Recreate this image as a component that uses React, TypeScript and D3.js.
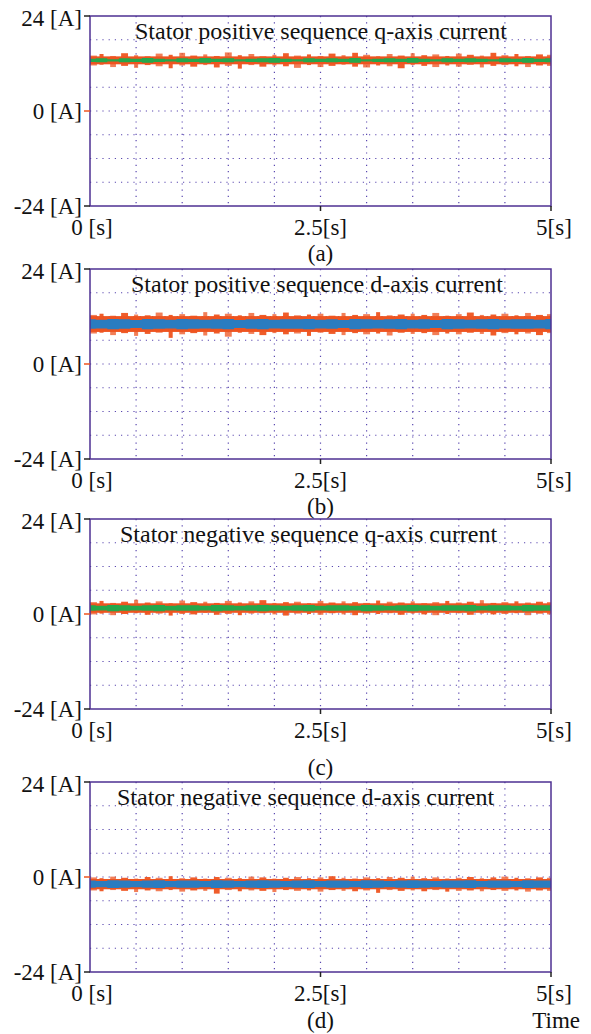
import React, { useEffect, useRef } from "react";
import * as d3 from "d3";

// Four scope traces: stator positive / negative sequence dq currents, 0..5 s, +-24 A

const titles = [
  "Stator positive sequence q-axis current",
  "Stator positive sequence d-axis current",
  "Stator negative sequence q-axis current",
  "Stator negative sequence d-axis current",
];
const captions = ["(a)", "(b)", "(c)", "(d)"];
const yTickLabels = ["24 [A]", "0 [A]", "-24 [A]"];
const yTickValues = [24, 0, -24];
const xTickLabels = ["0 [s]", "2.5[s]", "5[s]"];
const xTickValues = [0, 2.5, 5];

// trace centre values (A)
const centres = [12.8, 10.1, 1.5, -1.8];
// solid core half-width of the orange band (A)
const orangeCore = [1.0, 2.0, 1.2, 1.3];

// envelope offsets above / below centre (A)
const aOrangeHi = [1.2, 1.6, 1.1, 1.8, 1.3, 1.0, 1.7, 1.4, 1.9, 1.2, 1.5, 1.1, 2.0, 1.3, 1.6, 1.0, 1.4, 1.8, 1.2, 1.5, 1.1, 1.7, 1.3, 1.9, 1.4, 1.0, 1.6, 1.2, 1.8, 1.3, 1.5, 1.1, 1.7, 1.4, 1.2, 1.9, 1.3, 1.6, 1.1, 1.5, 1.4];
const aOrangeLo = [1.3, 1.1, 1.7, 1.4, 1.9, 1.2, 1.5, 2.0, 1.3, 1.6, 1.2, 1.8, 1.4, 2.1, 1.2, 1.6, 1.3, 1.5, 1.9, 1.2, 1.7, 1.4, 1.1, 1.6, 1.8, 1.3, 1.5, 2.0, 1.2, 1.4, 1.7, 1.3, 1.6, 1.1, 1.8, 1.4, 1.2, 1.5, 1.7, 1.3, 1.4];
const aGreenAmp = [0.4, 0.5, 0.3, 0.5, 0.4, 0.6, 0.4, 0.3, 0.5, 0.4, 0.6, 0.4, 0.5, 0.3, 0.4, 0.5, 0.6, 0.4, 0.3, 0.5, 0.4, 0.5, 0.4, 0.6, 0.3, 0.4, 0.5, 0.4, 0.6, 0.4, 0.3, 0.5, 0.4, 0.5, 0.4, 0.3, 0.5, 0.4, 0.6, 0.4, 0.5];

const bOrangeHi = [2.3, 2.6, 2.1, 2.8, 2.4, 2.2, 2.9, 2.3, 2.5, 2.1, 3.0, 2.4, 2.6, 2.2, 2.8, 2.3, 2.5, 2.9, 2.2, 2.4, 2.6, 2.1, 2.8, 2.3, 2.5, 3.0, 2.2, 2.4, 2.6, 2.3, 2.8, 2.1, 2.5, 2.9, 2.3, 2.4, 2.6, 2.2, 2.8, 2.3, 2.5];
const bOrangeLo = [2.4, 2.2, 2.8, 2.3, 3.0, 2.5, 2.2, 3.5, 2.6, 2.3, 2.9, 2.4, 3.2, 2.2, 2.5, 2.8, 2.3, 2.6, 2.4, 3.0, 2.2, 2.5, 2.8, 2.3, 2.6, 2.4, 2.9, 2.2, 2.5, 2.3, 2.8, 2.4, 2.6, 2.2, 2.5, 2.9, 2.3, 2.6, 2.4, 2.8, 2.3];
const bBlueAmp = [1.2, 1.1, 1.3, 1.2, 1.0, 1.3, 1.2, 1.1, 1.3, 1.2, 1.1, 1.2, 1.3, 1.0, 1.2, 1.3, 1.1, 1.2, 1.2, 1.3, 1.1, 1.2, 1.0, 1.3, 1.2, 1.1, 1.2, 1.3, 1.1, 1.2, 1.0, 1.3, 1.2, 1.1, 1.2, 1.3, 1.1, 1.2, 1.2, 1.1, 1.3];

const cOrangeHi = [1.5, 1.8, 1.3, 1.6, 2.1, 1.4, 1.7, 1.2, 1.9, 1.5, 1.6, 1.3, 1.8, 1.4, 1.7, 2.0, 1.3, 1.5, 1.6, 1.2, 1.8, 1.4, 1.7, 1.5, 1.3, 1.9, 1.6, 1.4, 1.7, 1.2, 1.5, 1.8, 1.4, 1.6, 2.0, 1.3, 1.5, 1.7, 1.4, 1.6, 1.5];
const cOrangeLo = [1.6, 1.4, 1.8, 1.5, 1.3, 1.7, 1.4, 1.9, 1.5, 1.6, 1.2, 1.7, 1.5, 1.8, 1.4, 1.3, 1.6, 1.9, 1.4, 1.5, 1.7, 1.3, 1.6, 1.8, 1.4, 1.5, 1.3, 1.7, 1.4, 1.6, 1.8, 1.5, 1.3, 1.7, 1.4, 1.6, 1.5, 1.3, 1.8, 1.4, 1.6];
const cGreenAmp = [0.7, 0.6, 0.8, 0.7, 0.6, 0.7, 0.8, 0.6, 0.7, 0.7, 0.6, 0.8, 0.7, 0.6, 0.7, 0.8, 0.7, 0.6, 0.7, 0.8, 0.6, 0.7, 0.7, 0.6, 0.8, 0.7, 0.6, 0.7, 0.8, 0.7, 0.6, 0.7, 0.7, 0.8, 0.6, 0.7, 0.7, 0.6, 0.8, 0.7, 0.7];

const dOrangeHi = [1.7, 1.5, 1.9, 1.6, 1.4, 1.8, 1.6, 2.0, 1.5, 1.7, 1.4, 1.8, 1.6, 1.5, 1.9, 1.7, 1.4, 1.6, 1.8, 1.5, 1.7, 2.0, 1.6, 1.4, 1.7, 1.5, 1.8, 1.6, 1.9, 1.5, 1.7, 1.4, 1.6, 1.8, 1.5, 1.7, 1.9, 1.6, 1.5, 1.7, 1.6];
const dOrangeLo = [1.6, 1.8, 1.5, 1.7, 2.0, 1.6, 1.8, 1.5, 1.9, 1.6, 1.7, 2.4, 1.5, 1.8, 1.6, 1.7, 2.0, 1.5, 1.7, 1.6, 1.9, 1.5, 1.7, 1.8, 1.6, 2.2, 1.5, 1.7, 1.6, 1.8, 1.5, 1.9, 1.7, 1.6, 1.8, 1.5, 1.7, 1.6, 1.9, 1.6, 1.7];
const dBlueAmp = [0.9, 0.8, 1.0, 0.9, 0.8, 0.9, 1.0, 0.8, 0.9, 0.9, 0.8, 1.0, 0.9, 0.8, 0.9, 1.0, 0.9, 0.8, 0.9, 1.0, 0.8, 0.9, 0.9, 0.8, 1.0, 0.9, 0.8, 0.9, 1.0, 0.9, 0.8, 0.9, 0.9, 1.0, 0.8, 0.9, 0.9, 0.8, 1.0, 0.9, 0.9];

const orangeHi = [aOrangeHi, bOrangeHi, cOrangeHi, dOrangeHi];
const orangeLo = [aOrangeLo, bOrangeLo, cOrangeLo, dOrangeLo];
const innerAmp = [aGreenAmp, bBlueAmp, cGreenAmp, dBlueAmp];
const innerColor = ["#24a84c", "#2a7cc0", "#24a84c", "#2a7cc0"];

// layout (pixels)
const W = 591;
const H = 1034;
const left = 90;
const right = 551;
const panelTops = [16, 269, 519, 782];
const panelHeight = 190;
const titleX = [135, 131, 120, 117];
const captionY = [261, 514, 775, 1028];

const frameColor = "#4e3192";
const gridColor = "#5a48b0";
const orange = "#ee5420";
const font = "Liberation Serif, DejaVu Serif, serif";

const App = () => {
  const ref = useRef(null);

  useEffect(() => {
    document.body.style.margin = "0";
    const root = d3.select(ref.current);
    root.selectAll("*").remove();

    const svg = root
      .append("svg")
      .attr("width", W)
      .attr("height", H)
      .style("display", "block")
      .style("background", "#fff")
      .style("font-family", font);

    const x = d3.scaleLinear().domain([0, 5]).range([left, right]);

    titles.forEach((title, p) => {
      const top = panelTops[p];
      const y = d3.scaleLinear().domain([-24, 24]).range([top + panelHeight, top]);
      const g = svg.append("g");

      // dotted grid: 10 x 8 divisions
      g.selectAll(".vg")
        .data(d3.range(1, 10).map((i) => i * 0.5))
        .enter()
        .append("line")
        .attr("x1", (d) => x(d))
        .attr("x2", (d) => x(d))
        .attr("y1", top)
        .attr("y2", top + panelHeight)
        .attr("stroke", gridColor)
        .attr("stroke-width", 1.2)
        .attr("stroke-dasharray", "1.2 5");

      g.selectAll(".hg")
        .data(d3.range(-18, 24, 6))
        .enter()
        .append("line")
        .attr("x1", left)
        .attr("x2", right)
        .attr("y1", (d) => y(d))
        .attr("y2", (d) => y(d))
        .attr("stroke", gridColor)
        .attr("stroke-width", 1.2)
        .attr("stroke-dasharray", "1.2 5");

      // traces
      const n = orangeHi[p].length;
      const t = d3.range(n).map((i) => (i * 5) / (n - 1));
      const c = centres[p];
      const step = x(t[1]) - x(t[0]);

      // solid core of the orange trace
      g.append("rect")
        .attr("x", left)
        .attr("width", right - left)
        .attr("y", y(c + orangeCore[p]))
        .attr("height", y(c - orangeCore[p]) - y(c + orangeCore[p]))
        .attr("fill", orange);

      // noise spikes
      const spikes = g.append("g").attr("fill", orange);
      orangeHi[p].forEach((hi, i) => {
        const lo = orangeLo[p][i];
        const w = i % 3 === 0 ? step * 0.6 : i % 3 === 1 ? step * 0.35 : step * 0.5;
        const x0 = Math.min(Math.max(x(t[i]) - w / 2, left), right - w);
        spikes
          .append("rect")
          .attr("x", x0)
          .attr("width", w)
          .attr("y", y(c + hi))
          .attr("height", y(c - lo) - y(c + hi))
          .attr("fill-opacity", i % 2 === 0 ? 0.75 : 0.95);
      });

      const innerArea = d3
        .area()
        .x((d, i) => x(t[i]))
        .y0((d) => y(c - d))
        .y1((d) => y(c + d))
        .curve(d3.curveStep);

      g.append("path")
        .datum(innerAmp[p])
        .attr("d", innerArea)
        .attr("fill", innerColor[p]);

      // frame
      g.append("rect")
        .attr("x", left)
        .attr("y", top)
        .attr("width", right - left)
        .attr("height", panelHeight)
        .attr("fill", "none")
        .attr("stroke", frameColor)
        .attr("stroke-width", 1.5);

      // y ticks
      yTickValues.forEach((v, i) => {
        g.append("line")
          .attr("x1", left - 6)
          .attr("x2", left)
          .attr("y1", y(v))
          .attr("y2", y(v))
          .attr("stroke", v === 0 ? orange : "#222")
          .attr("stroke-width", 1.5);
        g.append("text")
          .attr("x", left - 8)
          .attr("y", y(v) + (v === 24 ? 10 : 8))
          .attr("text-anchor", "end")
          .attr("font-size", 23)
          .attr("fill", "#111")
          .text(yTickLabels[i]);
      });

      // x ticks
      xTickValues.forEach((v, i) => {
        if (v > 0) {
          g.append("line")
            .attr("x1", x(v))
            .attr("x2", x(v))
            .attr("y1", top + panelHeight)
            .attr("y2", top + panelHeight + 5)
            .attr("stroke", "#222")
            .attr("stroke-width", 1.5);
        }
        g.append("text")
          .attr("x", x(v) + (i === 0 ? 2 : i === 2 ? 3 : 0))
          .attr("y", top + panelHeight + 29)
          .attr("text-anchor", "middle")
          .attr("font-size", 23)
          .attr("fill", "#111")
          .text(xTickLabels[i]);
      });

      g.append("text")
        .attr("x", titleX[p])
        .attr("y", top + 23)
        .attr("font-size", 24)
        .attr("fill", "#111")
        .text(title);

      g.append("text")
        .attr("x", x(2.5))
        .attr("y", captionY[p])
        .attr("text-anchor", "middle")
        .attr("font-size", 23)
        .attr("fill", "#111")
        .text(captions[p]);
    });

    svg.append("text")
      .attr("x", 580)
      .attr("y", captionY[3])
      .attr("text-anchor", "end")
      .attr("font-size", 23)
      .attr("fill", "#111")
      .text("Time");
  }, []);

  return <div ref={ref}></div>;
};

export default App;
